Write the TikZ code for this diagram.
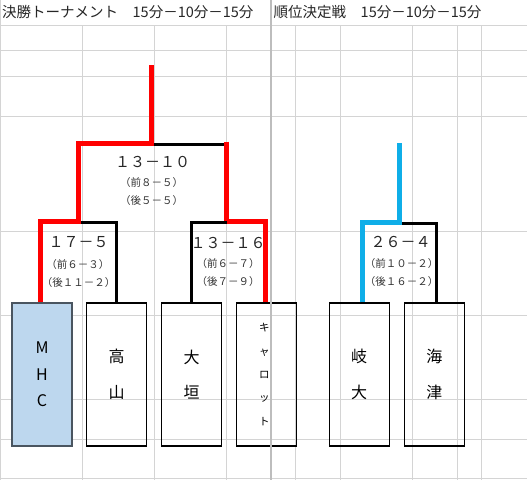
\documentclass[tikz,border=0pt]{standalone}
\usepackage{fontspec}
\setmainfont{Noto Sans CJK JP}
\definecolor{gridgray}{HTML}{D4D4D4}
\definecolor{sepgray}{HTML}{BDBDBD}
\definecolor{bred}{HTML}{FF0000}
\definecolor{bblue}{HTML}{0FAEE8}
\definecolor{mhcblue}{HTML}{BDD7EE}
\definecolor{mhcborder}{HTML}{4A5560}
\begin{document}
\begin{tikzpicture}[x=1pt,y=-1pt,
  gridline/.style={draw=gridgray,line width=0.9pt},
  sepline/.style={draw=sepgray,line width=2pt},
  winred/.style={draw=bred,line width=5pt,line join=miter},
  winblue/.style={draw=bblue,line width=5.3pt,line join=miter},
  lose/.style={draw=black,line width=3.2pt,line join=miter},
  team/.style={draw=black,line width=1.2pt,minimum width=60pt,minimum height=143pt,inner sep=0pt,align=center},
  hdr/.style={font=\fontsize{14.5}{16}\selectfont,inner sep=0pt,text=black!85},
  score/.style={font=\fontsize{15}{16}\selectfont,inner sep=0pt,text=black!85},
  half/.style={font=\fontsize{10.5}{12}\selectfont,inner sep=0pt,text=black!80}]
\useasboundingbox (0,0) rectangle (527,480);
\fill[white] (0,0) rectangle (527,480);
% grid
\foreach \gx in {82.8,154.5,226.6,295,340,412,457,481.5}
  \draw[gridline] (\gx,25.3) -- (\gx,480);
\foreach \gy in {25.3,50.5,76.4,116.8,231,315,399,439,478.5}
  \draw[gridline] (0,\gy) -- (527,\gy);
\draw[gridline] (0.5,0) -- (0.5,480);
% headers
\node[hdr,anchor=west] (h1) at (2,12.5) {決勝トーナメント　15分－10分－15分};
\node[hdr,anchor=west] (h2) at (273.5,12.5) {順位決定戦　15分－10分－15分};
% team boxes
\node[team,fill=mhcblue,draw=mhcborder,font=\fontsize{16}{26.3}\selectfont] (mhc) at (42,374.5) {M\\H\\C};
\node[team,font=\fontsize{16}{35.5}\selectfont] (takayama) at (116.7,374.5) {高\\山};
\node[team,font=\fontsize{16}{34.5}\selectfont] (ogaki) at (191.7,374.5) {大\\垣};
\node[team,font=\fontsize{10.5}{23.3}\selectfont] (carrot) at (266.8,374.5) {\hspace*{-5pt}キ\\\hspace*{-5pt}ャ\\\hspace*{-5pt}ロ\\\hspace*{-5pt}ッ\\\hspace*{-5pt}ト};
\node[team,font=\fontsize{16}{36}\selectfont] (gidai) at (359.2,374.5) {岐\\大};
\node[team,font=\fontsize{16}{35.5}\selectfont] (kaizu) at (434.3,374.5) {海\\津};
% separator
\draw[sepline] (271,0) -- (271,480);
% bracket joints
\coordinate (top) at (151.7,65);
\coordinate (j0) at (151.7,143.3);
\coordinate (j0r) at (226.8,141.7);
\coordinate (s1) at (78.5,221.7);
\coordinate (s2) at (226.8,221.7);
\coordinate (btop) at (399.5,142.7);
\coordinate (bj) at (399.5,222.3);
% final
\draw[lose] ([yshift=-0.8pt]j0) -- ([yshift=-0.8pt]j0r |- j0);
\draw[winred] (j0r) -- (s2);
% semi 1
\draw[lose] ([yshift=-0.4pt]s1) -| (takayama.north);
\draw[winred] ([xshift=-1.3pt]mhc.north) |- (s1) |- (j0) -- (top);
% semi 2
\draw[lose] (ogaki.north) |- ([yshift=-0.4pt]s2);
\draw[winred] (s2) -| ([xshift=-1.3pt]carrot.north);
% ranking
\draw[lose] ([yshift=-1pt]bj) -| ([xshift=2.5pt]kaizu.north);
\draw[winblue] ([xshift=3.5pt]gidai.north) |- (bj) -- (btop);
% scores
\node[score] (fs) at (152.5,161.7) {１３－１０};
\node[half] (f1) at (151.7,182.3) {（前８－５）};
\node[half] (f2) at (151.7,201) {（後５－５）};
\node[score] (as) at (78.6,241.7) {１７－５};
\node[half] (a1) at (77.8,264.4) {（前６－３）};
\node[half] (a2) at (78.6,283) {（後１１－２）};
\node[score] (bs) at (228,242.5) {１３－１６};
\node[half] (b1) at (228,264) {（前６－７）};
\node[half] (b2) at (228,282) {（後７－９）};
\node[score] (cs) at (400.7,242) {２６－４};
\node[half] (c1) at (401.7,264) {（前１０－２）};
\node[half] (c2) at (401.7,282) {（後１６－２）};
\end{tikzpicture}
\end{document}
